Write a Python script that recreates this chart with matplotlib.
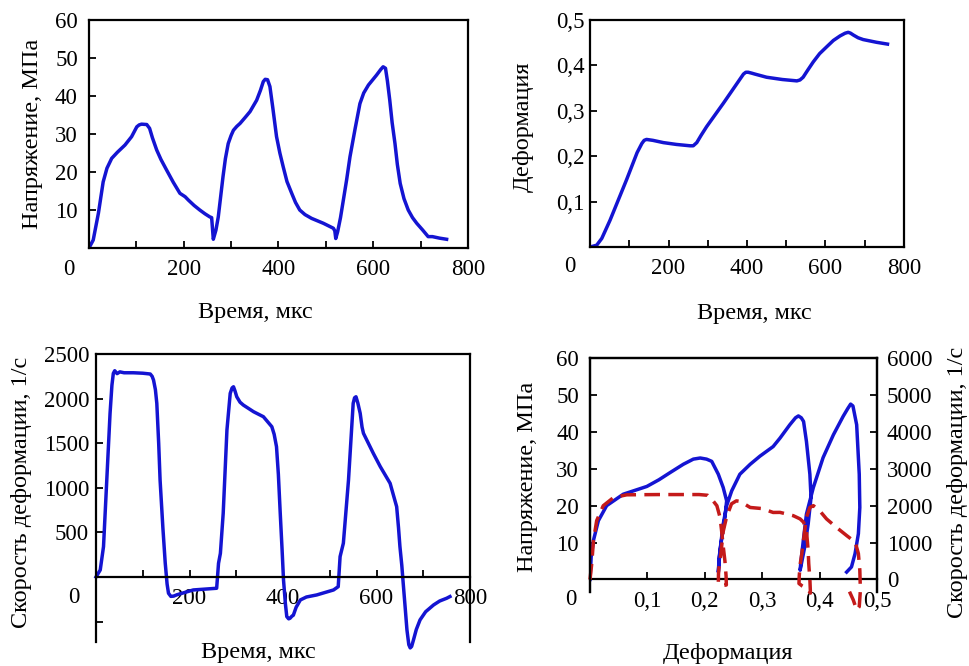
import matplotlib
matplotlib.use("Agg")
import matplotlib.pyplot as plt

plt.rcParams["font.family"] = ["Liberation Serif", "DejaVu Serif"]
plt.rcParams["font.size"] = 16.5

BLUE = "#1414d2"
RED = "#c41a1a"
LABEL_SIZE = 17.5

# --- stress vs time ---------------------------------------------------------
t_stress = [0, 9, 20, 30, 38, 48, 60, 76, 90, 101, 106, 111, 122, 128, 134, 143, 152,
            164, 178, 192, 203, 210, 222, 234, 245, 255, 259, 262.5, 268, 273, 278,
            283, 288, 294, 300, 305, 312, 319, 330, 340, 354, 362, 368, 372, 377, 382,
            388, 396, 403, 410, 418, 428, 436, 445, 456, 470, 495, 516, 519, 521, 525,
            531, 537, 544, 551, 562, 572, 580, 590, 607, 616, 621, 626, 630, 635, 640,
            646, 651, 657, 665, 674, 683, 692, 704, 716, 725, 740, 755]
stress = [0, 2.1, 9.2, 17.4, 21.0, 23.6, 25.2, 27.1, 29.3, 31.9, 32.4, 32.6, 32.5,
          31.5, 29.0, 25.8, 23.3, 20.5, 17.3, 14.4, 13.5, 12.6, 11.2, 10.0, 9.0, 8.2,
          8.0, 2.3, 4.7, 8.2, 13.5, 18.8, 23.5, 27.5, 29.6, 31.0, 32.0, 32.8, 34.4,
          35.9, 38.9, 41.5, 43.8, 44.4, 44.3, 42.5, 37.0, 29.3, 25.0, 21.4, 17.5,
          14.4, 12.0, 10.0, 8.8, 7.8, 6.5, 5.2, 4.5, 2.5, 4.3, 8.0, 12.6, 18.0, 24.0,
          31.5, 38.0, 40.8, 42.9, 45.5, 47.0, 47.7, 47.3, 44.0, 38.9, 33.0, 27.5,
          22.0, 17.0, 13.0, 10.0, 8.0, 6.5, 4.8, 3.0, 3.0, 2.6, 2.3]

# --- strain vs time ---------------------------------------------------------
t_strain = [0, 17, 30, 51, 93, 120, 132, 138, 144, 152, 160, 187, 220, 255, 263, 272,
            283, 297, 340, 391, 397, 403, 412, 420, 450, 490, 527, 535, 543, 555, 569,
            585, 603, 620, 637, 650, 658, 664, 671, 683, 696, 730, 758]
strain = [0, 0.004, 0.019, 0.059, 0.148, 0.208, 0.228, 0.235, 0.237, 0.236, 0.235,
          0.230, 0.226, 0.223, 0.223, 0.230, 0.246, 0.265, 0.317, 0.381, 0.385, 0.385,
          0.383, 0.381, 0.374, 0.369, 0.366, 0.368, 0.374, 0.390, 0.408, 0.426, 0.441,
          0.455, 0.465, 0.471, 0.473, 0.471, 0.467, 0.461, 0.457, 0.451, 0.447]

# --- strain rate vs time ----------------------------------------------------
t_rate = [0, 9, 16, 23, 30, 34, 37, 40, 45, 51, 60, 80, 100, 116, 120, 123, 127, 130,
          134, 137, 143, 148, 152, 155, 160, 166, 173, 208, 258, 262, 266, 272, 280,
          287, 291, 294, 297, 301, 308, 315, 337, 358, 376, 381, 386, 390, 394, 398,
          401, 405, 408, 412, 415, 419, 422, 428, 437, 450, 472, 508, 518, 522, 529,
          540, 550, 553, 556, 560, 565, 569, 572, 593, 608, 629, 643, 647, 650, 654,
          657, 661, 665, 669, 672, 675, 679, 685, 693, 705, 722, 735, 750, 757]
rate = [0, 78, 340, 1087, 1835, 2150, 2283, 2313, 2280, 2300, 2290, 2290, 2285, 2276,
        2250, 2208, 2100, 1947, 1500, 1087, 550, 157, -80, -183, -218, -215, -200,
        -146, -127, 153, 265, 714, 1648, 2059, 2120, 2133, 2090, 2021, 1960, 1928,
        1853, 1797, 1685, 1600, 1461, 1150, 714, 300, -34, -300, -445, -470, -463,
        -440, -430, -340, -258, -225, -202, -146, -109, 228, 378, 1087, 1947, 2010,
        2021, 1950, 1835, 1680, 1611, 1387, 1237, 1050, 788, 550, 340, 130, -71,
        -330, -594, -760, -796, -780, -706, -590, -482, -390, -314, -270, -239, -220]

# --- stress and strain rate vs strain ---------------------------------------
eps_stress = [0, 0.002, 0.006, 0.0145, 0.029, 0.058, 0.099, 0.12, 0.14, 0.1625,
              0.180, 0.192, 0.203, 0.212, 0.2235, 0.232, 0.238, 0.235, 0.229, 0.225,
              0.2235, 0.2265, 0.232, 0.238, 0.2468, 0.261, 0.279, 0.296, 0.319, 0.331,
              0.348, 0.358, 0.363, 0.368, 0.372, 0.377, 0.383, 0.385, 0.380, 0.374,
              0.366, 0.367, 0.3716, 0.377, 0.389, 0.406, 0.424, 0.441, 0.449, 0.454,
              0.458, 0.4645, 0.469, 0.470, 0.4675, 0.4617, 0.4555, 0.447]
sig_stress = [0, 6.1, 10.6, 15.9, 20.0, 23.1, 25.2, 27.0, 29.0, 31.2, 32.6, 32.9,
              32.6, 32.0, 28.5, 24.9, 21.3, 16.8, 10.6, 6.1, 2.0, 7.9, 15.0, 20.0, 24.0,
              28.5, 31.2, 33.4, 36.0, 38.3, 41.9, 43.8, 44.3, 43.8, 42.8, 37.4, 28.5,
              22.2, 15.0, 8.8, 2.5, 4.3, 10.6, 17.7, 24.9, 33.0, 39.2, 44.2, 46.3,
              47.5, 47.0, 41.9, 28.5, 19.5, 12.4, 7.0, 3.4, 2.0]

eps_rate = [0, 0.003, 0.006, 0.0116, 0.023, 0.041, 0.064, 0.12, 0.19, 0.205, 0.212,
            0.221, 0.2265, 0.229, 0.232, 0.235, 0.237, 0.2375, 0.233, 0.226, 0.2235,
            0.2238, 0.2245, 0.228, 0.232, 0.238, 0.2465, 0.255, 0.262, 0.279, 0.30,
            0.319, 0.331, 0.354, 0.366, 0.372, 0.377, 0.380, 0.381, 0.383, 0.384,
            0.378, 0.370, 0.364, 0.3645, 0.366, 0.369, 0.371, 0.374, 0.377, 0.383,
            0.389, 0.40, 0.412, 0.429, 0.447, 0.462, 0.4675, 0.470, 0.471, 0.469,
            0.4645, 0.4586, 0.452]
rate_eps = [0, 430, 1056, 1594, 1997, 2220, 2293, 2300, 2300, 2280, 2177, 1997,
            1683, 1350, 900, 500, 100, -150, -160, -140, -120, 150, 300, 700, 1300,
            1700, 2050, 2130, 2110, 1950, 1920, 1815, 1817, 1728, 1640, 1550, 1325,
            788, 430, 0, -370, -250, -180, -110, 100, 400, 700, 950, 1325, 1683, 1950,
            2000, 1863, 1640, 1414, 1190, 1010, 700, 250, -290, -737, -825, -556, -330]

time_ticks = [0, 100, 200, 300, 400, 500, 600, 700, 800]
time_labels = ["", "", "200", "", "400", "", "600", "", "800"]

LW = 2.5
TICK = dict(direction="in", length=5, width=1.3)


def frame(ax):
    for s in ax.spines.values():
        s.set_linewidth(1.6)
    ax.tick_params(**TICK)


fig = plt.figure(figsize=(9.69, 6.66), dpi=100)

# stress vs time
ax1 = fig.add_axes([0.0918, 0.6276, 0.3911, 0.3423])
ax1.plot(t_stress, stress, color=BLUE, lw=LW, solid_joinstyle="round")
ax1.set_xlim(0, 800)
ax1.set_ylim(0, 60)
ax1.set_xticks(time_ticks, time_labels)
ax1.set_yticks([10, 20, 30, 40, 50, 60])
frame(ax1)
ax1.tick_params(axis="x", pad=8)
ax1.tick_params(axis="y", pad=8)
ax1.text(-0.053, -0.096, "0", transform=ax1.transAxes, ha="center", va="center")
ax1.set_xlabel("Время, мкс", va="center", fontsize=LABEL_SIZE)
ax1.xaxis.set_label_coords(0.438, -0.285)
ax1.set_ylabel("Напряжение, МПа", va="center", fontsize=LABEL_SIZE)
ax1.yaxis.set_label_coords(-0.150, 0.5)

# strain vs time
ax2 = fig.add_axes([0.6089, 0.6291, 0.3240, 0.3408])
ax2.plot(t_strain, strain, color=BLUE, lw=LW, solid_joinstyle="round")
ax2.set_xlim(0, 800)
ax2.set_ylim(0, 0.5)
ax2.set_xticks(time_ticks, time_labels)
ax2.set_yticks([0.1, 0.2, 0.3, 0.4, 0.5], ["0,1", "0,2", "0,3", "0,4", "0,5"])
frame(ax2)
ax2.tick_params(axis="x", pad=8)
ax2.tick_params(axis="y", pad=4)
ax2.text(-0.064, -0.088, "0", transform=ax2.transAxes, ha="center", va="center")
ax2.set_xlabel("Время, мкс", va="center", fontsize=LABEL_SIZE)
ax2.xaxis.set_label_coords(0.525, -0.291)
ax2.set_ylabel("Деформация", va="center", fontsize=LABEL_SIZE)
ax2.yaxis.set_label_coords(-0.213, 0.529)

# strain rate vs time
ax3 = fig.add_axes([0.0991, 0.0360, 0.3860, 0.4324])
ax3.plot(t_rate, rate, color=BLUE, lw=LW, solid_joinstyle="round", clip_on=False)
ax3.set_xlim(0, 800)
ax3.set_ylim(-730, 2500)
ax3.spines["bottom"].set_position(("data", 0))
ax3.set_xticks(time_ticks, time_labels)
ax3.set_yticks([-500, 500, 1000, 1500, 2000, 2500],
               ["", "500", "1000", "1500", "2000", "2500"])
frame(ax3)
ax3.tick_params(axis="x", pad=8)
ax3.tick_params(axis="y", pad=5)
ax3.text(-0.059, 0.153, "0", transform=ax3.transAxes, ha="center", va="center")
ax3.set_xlabel("Время, мкс", va="center", fontsize=LABEL_SIZE)
ax3.xaxis.set_label_coords(0.433, -0.038)
ax3.set_ylabel("Скорость деформации, 1/с", va="center", fontsize=LABEL_SIZE)
ax3.yaxis.set_label_coords(-0.198, 0.521)

# stress and strain rate vs strain
ax4 = fig.add_axes([0.6089, 0.1111, 0.2962, 0.3514])
ax4.plot(eps_stress, sig_stress, color=BLUE, lw=LW, solid_joinstyle="round")
ax4.set_xlim(0, 0.5)
ax4.set_ylim(-3.4, 60)
ax4.spines["bottom"].set_position(("data", 0))
ax4.set_xticks([0, 0.1, 0.2, 0.3, 0.4, 0.5], ["", "0,1", "0,2", "0,3", "0,4", "0,5"])
ax4.set_yticks([10, 20, 30, 40, 50, 60])
frame(ax4)
ax4.tick_params(axis="x", pad=8)
ax4.tick_params(axis="y", pad=8)
ax4.text(-0.066, -0.034, "0", transform=ax4.transAxes, ha="center", va="center")
ax4.set_xlabel("Деформация", va="center", fontsize=LABEL_SIZE)
ax4.xaxis.set_label_coords(0.481, -0.261)
ax4.set_ylabel("Напряжение, МПа", va="center", fontsize=LABEL_SIZE)
ax4.yaxis.set_label_coords(-0.2195, 0.491)

ax4r = ax4.twinx()
ax4r.plot(eps_rate, rate_eps, color=RED, lw=LW, ls=(0, (4.5, 2.4)), clip_on=False)
ax4r.set_ylim(-340, 6000)
ax4r.set_yticks([0, 1000, 2000, 3000, 4000, 5000, 6000])
for s in ax4r.spines.values():
    s.set_linewidth(1.6)
ax4r.spines["bottom"].set_visible(False)
ax4r.tick_params(**TICK)
ax4r.tick_params(axis="y", pad=7)
ax4r.set_ylabel("Скорость деформации, 1/с", va="center", fontsize=LABEL_SIZE)
ax4r.yaxis.set_label_coords(1.282, 0.47)

fig.savefig("out.png", dpi=100)
